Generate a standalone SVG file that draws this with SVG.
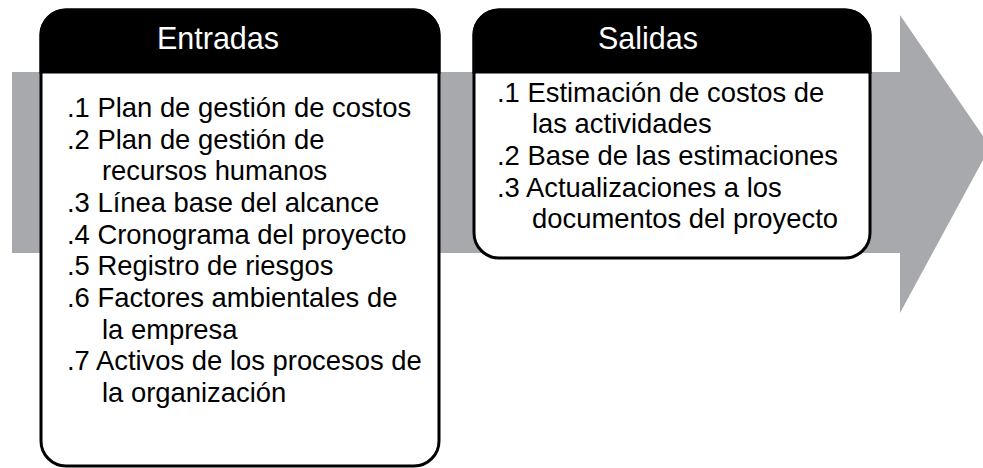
<svg xmlns="http://www.w3.org/2000/svg" width="983" height="468" viewBox="0 0 983 468">
<style>
.box{fill:#fff;stroke:#000;stroke-width:3}
.hdr{fill:#000;stroke:#000;stroke-width:3}
.title{font-family:"Liberation Sans",Arial,sans-serif;font-size:30.5px;fill:#fff;text-anchor:middle}
.item{font-family:"Liberation Sans",Arial,sans-serif;font-size:27.4px;fill:#000}
</style>
<rect width="983" height="468" fill="#fff"/>
<g id="flow-arrow">
<polygon points="12,72 900,72 900,15 983,136 983,160 900,313 900,253 12,253" fill="#a7a9ac"/>
</g>
<g id="entradas">
<rect class="box" x="41" y="10" width="398" height="456" rx="25" ry="25"/>
<path class="hdr" d="M41,72 V35 A25,25 0 0 1 66,10 H414 A25,25 0 0 1 439,35 V72 Z"/>
<text class="title" x="218" y="49">Entradas</text>
<text class="item" x="67" y="117">.1 Plan de gestión de costos</text>
<text class="item" x="67" y="149">.2 Plan de gestión de</text>
<text class="item" x="102" y="180">recursos humanos</text>
<text class="item" x="67" y="212">.3 Línea base del alcance</text>
<text class="item" x="67" y="244">.4 Cronograma del proyecto</text>
<text class="item" x="67" y="275">.5 Registro de riesgos</text>
<text class="item" x="67" y="307">.6 Factores ambientales de</text>
<text class="item" x="102" y="339">la empresa</text>
<text class="item" x="67" y="370">.7 Activos de los procesos de</text>
<text class="item" x="102" y="402">la organización</text>
</g>
<g id="salidas">
<rect class="box" x="474" y="10" width="396" height="248" rx="25" ry="25"/>
<path class="hdr" d="M474,72 V35 A25,25 0 0 1 499,10 H845 A25,25 0 0 1 870,35 V72 Z"/>
<text class="title" x="648" y="49">Salidas</text>
<text class="item" x="497" y="102">.1 Estimación de costos de</text>
<text class="item" x="532" y="133">las actividades</text>
<text class="item" x="497" y="165">.2 Base de las estimaciones</text>
<text class="item" x="497" y="197">.3 Actualizaciones a los</text>
<text class="item" x="532" y="228">documentos del proyecto</text>
</g>
<g id="connectors"></g>
</svg>
